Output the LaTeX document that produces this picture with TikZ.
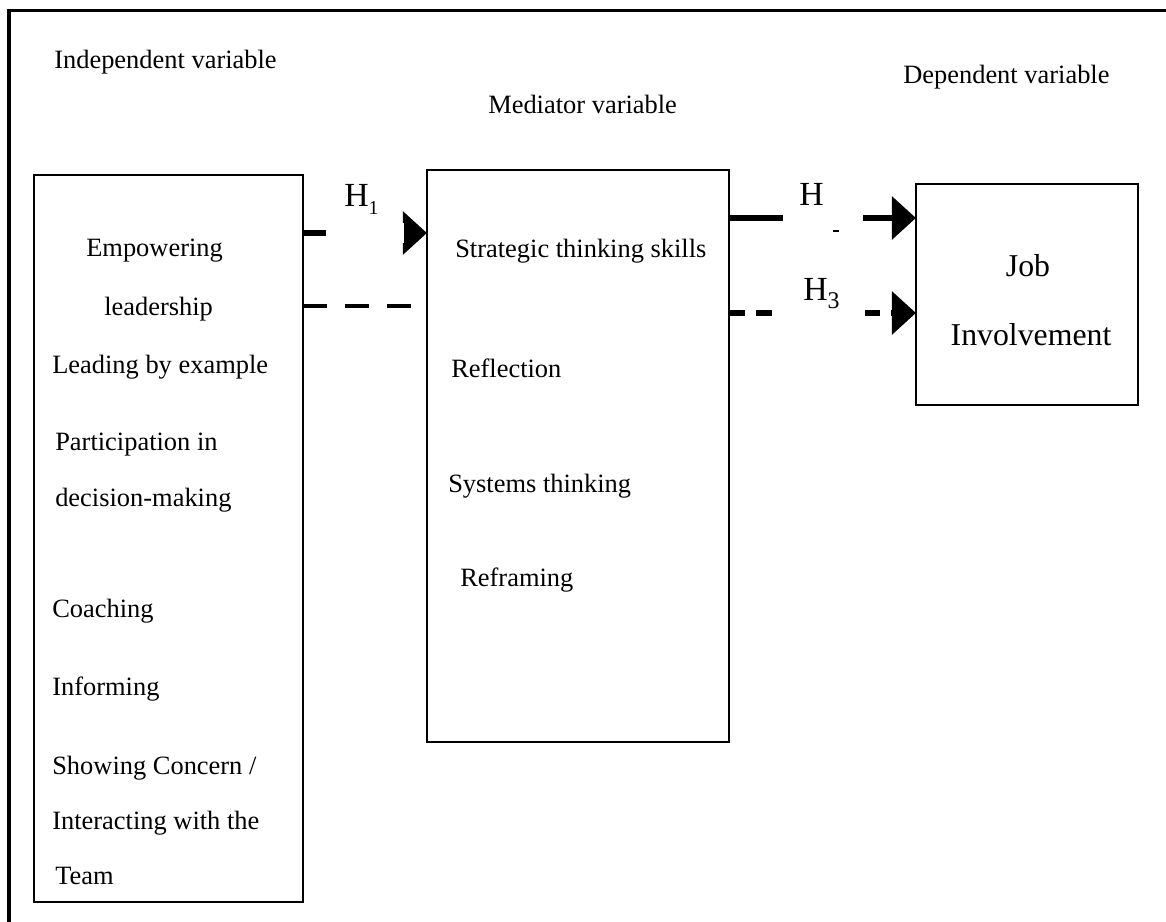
\documentclass[tikz,border=0pt]{standalone}
\usepackage{fontspec}
\setmainfont{Liberation Serif}
\usetikzlibrary{arrows.meta}
\newcommand{\hsub}[2][14]{\raisebox{-5.7pt}{\fontsize{#1}{#1}\selectfont #2}}

\begin{document}
\begin{tikzpicture}[
  x=0.025cm, y=-0.025cm,
  box/.style={draw, line width=0.05cm, inner sep=0pt, outer sep=0pt},
  txt/.style={anchor=base west, inner sep=0pt, font=\fontsize{18.8}{22}\selectfont},
  hyp/.style={anchor=base west, inner sep=0pt, font=\fontsize{24}{28}\selectfont},
  big/.style={anchor=base, inner sep=0pt, font=\fontsize{22.6}{26}\selectfont},
  gap/.style={fill=white, inner sep=0pt, minimum height=0.5cm},
  arr/.style={-{Triangle[length=0.6cm, width=1.05cm]}, line width=0.15cm},
  dashline/.style={line width=0.1cm, dash pattern=on 0.6cm off 0.45cm},
  dasharr/.style={arr, dash pattern=on 0.4cm off 0.275cm}
]
  \useasboundingbox (0,0) rectangle (1166,922);
  % outer frame
  \draw[line width=0.075cm] (9,922) -- (9,10) -- (1166,10);

  % the three boxes
  \node[box, minimum width=6.725cm, minimum height=18.175cm] (indep) at (168.5,538.5) {};
  \node[box, minimum width=7.55cm, minimum height=14.3cm] (mediator) at (578,456) {};
  \node[box, minimum width=5.55cm, minimum height=5.525cm] (dep) at (1027,294.5) {};

  % headings
  \node[txt] (indeptitle) at (54,68) {Independent variable};
  \node[txt] (medtitle) at (488,113) {Mediator variable};
  \node[txt] (deptitle) at (903,83) {Dependent variable};

  % independent variable
  \node[txt] (empow) at (86,256) {Empowering};
  \node[txt] (lead) at (104,315) {leadership};
  \node[txt] (example) at (52,373) {Leading by example};
  \node[txt] (partic) at (55,450) {Participation in};
  \node[txt] (decision) at (55,506) {decision-making};
  \node[txt] (coach) at (52,617) {Coaching};
  \node[txt] (inform) at (52,695) {Informing};
  \node[txt] (concern) at (52,774) {Showing Concern /};
  \node[txt] (interact) at (52,829) {Interacting with the};
  \node[txt] (team) at (55,884) {Team};

  % mediator variable
  \node[txt] (strategic) at (455,257) {Strategic thinking skills};
  \node[txt] (reflect) at (451,377) {Reflection};
  \node[txt] (systems) at (448,492) {Systems thinking};
  \node[txt] (reframe) at (460,586) {Reframing};

  % dependent variable
  \node[big] (job) at (1028,276) {Job};
  \node[big] (involve) at (1031,345) {Involvement};

  % arrows
  \coordinate (row1) at (0,233);
  \coordinate (row2) at (0,306);
  \coordinate (row3) at (0,218);
  \coordinate (row4) at (0,313);
  \coordinate (dashend) at (412,306);
  \draw[arr] (indep.east |- row1) -- node[gap, minimum width=1.925cm] {} (mediator.west |- row1);
  \draw[dashline] (indep.east |- row2) -- (dashend);
  \draw[arr] (mediator.east |- row3) -- node[gap, minimum width=2cm] {} (dep.west |- row3);
  \draw[dasharr] (mediator.east |- row4) -- node[gap, pos=0.48, minimum width=2.3cm] {} (dep.west |- row4);

  % hypotheses
  \node[hyp] (h1) at (344,206) {H\hsub{1}};
  \node[hyp] (h2) at (799,205) {H};
  \draw[line width=0.05cm] (833,231) -- (839,231);
  \node[hyp] (h3) at (803,300) {H\hsub[17]{3}};
\end{tikzpicture}
\end{document}
